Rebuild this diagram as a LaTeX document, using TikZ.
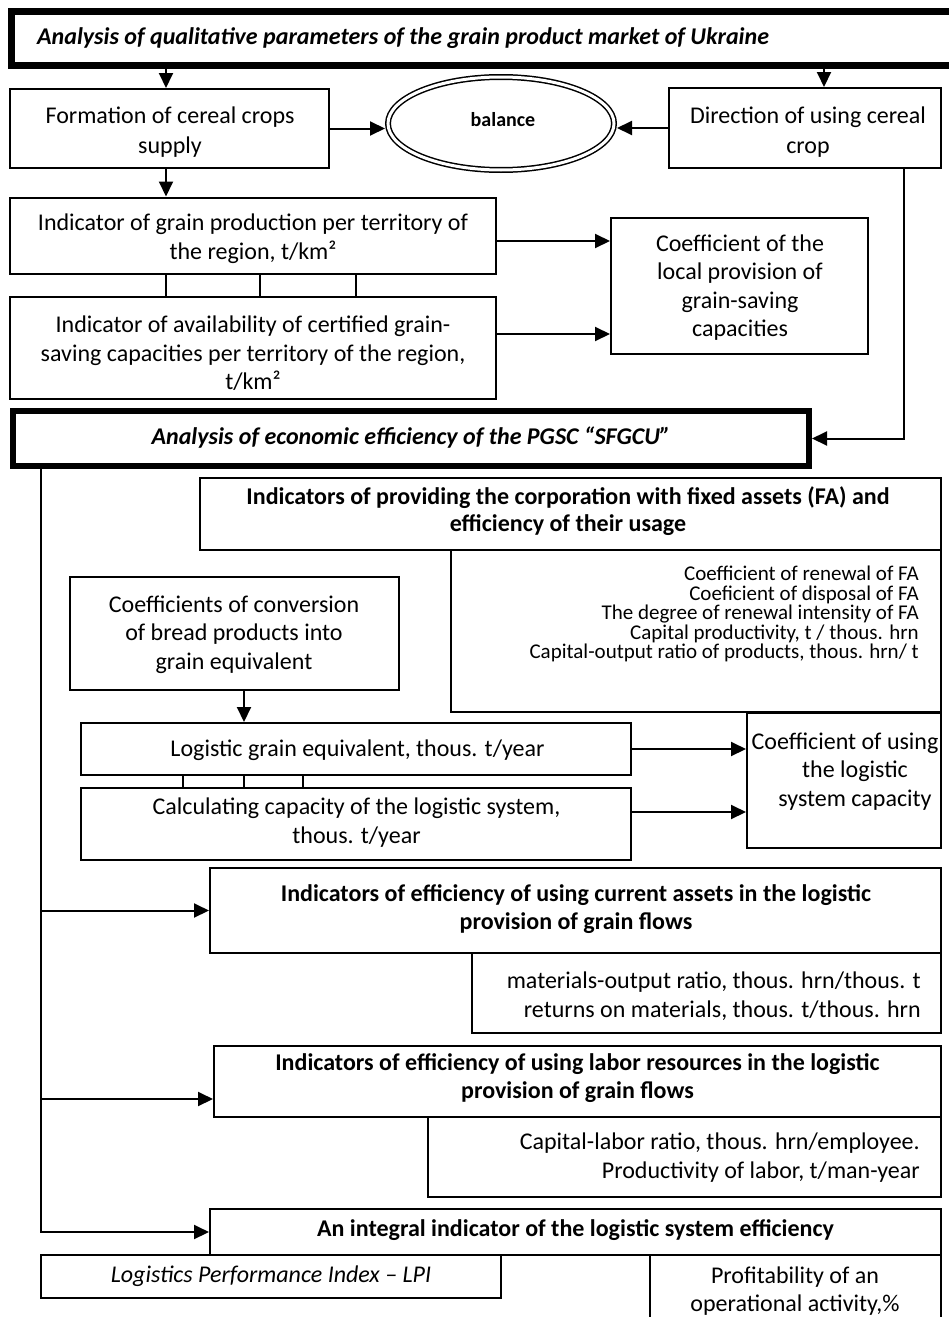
\documentclass[tikz,border=0pt]{standalone}
\usepackage{fontspec}
\setmainfont{Carlito}
\usetikzlibrary{arrows.meta,shapes.geometric}
\begin{document}
\lineskiplimit=-20pt
\begin{tikzpicture}[x=1pt,y=-1pt,
  box/.style={draw, line width=2pt, rectangle, inner sep=0pt},
  thickbox/.style={draw, line width=6pt, rectangle, inner sep=0pt},
  txt/.style={inner sep=0pt, align=center, font=\fontsize{24}{28.5}\selectfont},
  btxt/.style={txt, font=\fontsize{24}{28}\selectfont\bfseries},
  bitxt/.style={txt, font=\fontsize{24}{28}\selectfont\bfseries\itshape},
  itxt/.style={txt, font=\fontsize{24}{28}\selectfont\itshape},
  listtxt/.style={inner sep=0pt, align=right, anchor=east, font=\fontsize{24}{28.5}\selectfont},
  smalllist/.style={listtxt, font=\fontsize{21}{19.5}\selectfont},
  link/.style={line width=2pt},
  arr/.style={line width=2pt, -{Triangle[length=15pt,width=14pt]}},
]
\useasboundingbox (0,0) rectangle (949,1317);

% ---------- market analysis ----------
\node[thickbox, line width=7pt, minimum width=948.5pt, minimum height=53.5pt] (head) at (485.75,38.25) {};
\node[bitxt, anchor=west] (head-t) at (37,38.5) {Analysis of qualitative parameters of the grain product market of Ukraine};

\node[box, minimum width=319pt, minimum height=79pt] (formation) at (169.5,128.5) {};
\node[txt, font=\fontsize{24}{30}\selectfont] (formation-t) at (170,132.5) {Formation of cereal crops\\supply};

\node[draw, ellipse, line width=1.5pt, double, double distance=3pt, inner sep=0pt, outer sep=3pt,
      minimum width=226pt, minimum height=93pt] (balance) at (501,123.5) {};
\node[inner sep=0pt, font=\fontsize{20}{24}\selectfont\bfseries] (balance-t) at (503,120) {balance};

\node[box, minimum width=272pt, minimum height=80pt] (direction) at (805,128) {};
\node[txt, font=\fontsize{24}{30}\selectfont] (direction-t) at (808,132.5) {Direction of using cereal\\crop};

\node[box, minimum width=486.5pt, minimum height=76pt] (prod) at (252.75,235.5) {};
\node[txt] (prod-t) at (253,238.5) {Indicator of grain production per territory of\\the region, t/km²};

\node[box, minimum width=486.5pt, minimum height=102pt] (avail) at (252.75,348) {};
\node[txt] (avail-t) at (253,353.5) {Indicator of availability of certified grain-\\saving capacities per territory of the region,\\t/km²};

\node[box, minimum width=257pt, minimum height=136pt] (local) at (739.5,286) {};
\node[txt] (local-t) at (740,287.5) {Coefficient of the\\local provision of\\grain-saving\\capacities};

% ---------- corporation analysis ----------
\node[thickbox, minimum width=796pt, minimum height=55pt] (econ) at (411,438.5) {};
\node[bitxt] (econ-t) at (411,438) {Analysis of economic efficiency of the PGSC “SFGCU”};

\node[box, minimum width=741pt, minimum height=72pt] (fa) at (570.5,514) {};
\node[btxt, font=\fontsize{24}{27}\selectfont\bfseries] (fa-t) at (568,511.5) {Indicators of providing the corporation with fixed assets (FA) and\\efficiency of their usage};

\node[box, minimum width=490pt, minimum height=162pt] (falist) at (696,631) {};
\node[smalllist] (falist-t) at (919,614) {Coefficient of renewal of FA\\Coeficient of disposal of FA\\The degree of renewal intensity of FA\\Capital productivity, t / thous. hrn\\Capital-output ratio of products, thous. hrn/ t};

\node[box, minimum width=329pt, minimum height=113pt] (conv) at (234.5,633.5) {};
\node[txt] (conv-t) at (234,634.5) {Coefficients of conversion\\of bread products into\\grain equivalent};

\node[box, minimum width=550pt, minimum height=52pt] (lge) at (356,749) {};
\node[txt] (lge-t) at (357.5,750) {Logistic grain equivalent, thous. t/year};

\node[box, minimum width=550pt, minimum height=72pt] (calc) at (356,824) {};
\node[txt] (calc-t) at (356.5,822.5) {Calculating capacity of the logistic system,\\thous. t/year};

\node[box, minimum width=194pt, minimum height=135pt] (uselog) at (844,780.5) {};
\node[txt] (uselog-t) at (855,771.5) {\hspace*{-20pt}Coefficient of using\\the logistic\\system capacity};

\node[box, minimum width=731pt, minimum height=85pt] (cur) at (575.5,910.5) {};
\node[btxt] (cur-t) at (576,909.5) {Indicators of efficiency of using current assets in the logistic\\provision of grain flows};

\node[box, minimum width=469pt, minimum height=80pt] (curlist) at (706.5,993) {};
\node[listtxt] (curlist-t) at (921,996) {materials-output ratio, thous. hrn/thous. t\\returns on materials, thous. t/thous. hrn};

\node[box, minimum width=727pt, minimum height=71pt] (lab) at (577.5,1081.5) {};
\node[btxt] (lab-t) at (577.5,1078.5) {Indicators of efficiency of using labor resources in the logistic\\provision of grain flows};

\node[box, minimum width=513pt, minimum height=80pt] (lablist) at (684.5,1157) {};
\node[listtxt] (lablist-t) at (920,1157.5) {Capital-labor ratio, thous. hrn/employee.\\Productivity of labor, t/man-year};

\node[box, minimum width=731pt, minimum height=46pt] (integ) at (575.5,1232) {};
\node[btxt] (integ-t) at (575.5,1230) {An integral indicator of the logistic system efficiency};

\node[box, minimum width=460pt, minimum height=43pt] (lpi) at (271,1276.5) {};
\node[itxt] (lpi-t) at (271,1276.5) {Logistics Performance Index – LPI};

\node[box, minimum width=291pt, minimum height=85pt] (profit) at (795.5,1297.5) {};
\node[txt] (profit-t) at (795,1291) {Profitability of an\\operational activity,\%};

% ---------- connectors ----------
\coordinate (formtop) at ([xshift=-3.5pt]formation.north);
\coordinate (formbot) at ([xshift=-3.5pt]formation.south);
\coordinate (dirtop) at ([xshift=19pt]direction.north);
\draw[arr] (formtop |- head.south) -- (formtop);
\draw[arr] (dirtop |- head.south) -- (dirtop);

\draw[arr] (formation.east) -- (formation.east -| balance.west);
\draw[arr] (direction.west) -- (direction.west -| balance.east);

\draw[arr] (formbot) -- (formbot |- prod.north);

\foreach \dx in {-86.75,7.25,102.75}
  \draw[link] ([xshift=\dx pt]prod.south) -- ([xshift=\dx pt]avail.north);

\coordinate (p1) at ([yshift=-5.5pt]prod.east);
\coordinate (a1) at ([yshift=14pt]avail.east);
\draw[arr] (p1) -- (p1 -| local.west);
\draw[arr] (a1) -- (a1 -| local.west);

\coordinate (dsouth) at ([xshift=99pt]direction.south);
\draw[arr] (dsouth) |- (econ.east);

\coordinate (trunk) at ([xshift=-370pt]econ.south);
\coordinate (labin) at ([yshift=-17.5pt]lab.west);
\draw[arr] (trunk) |- (integ.west);
\draw[arr] (trunk |- cur.west) -- (cur.west);
\draw[arr] (trunk |- labin) -- (labin);

\coordinate (cv) at ([xshift=9.5pt]conv.south);
\draw[arr] (cv) -- (cv |- lge.north);

\foreach \dx in {-173,-112,-53}
  \draw[link] ([xshift=\dx pt]lge.south) -- ([xshift=\dx pt]calc.north);

\coordinate (c1) at ([yshift=12pt]calc.east);
\draw[arr] (lge.east) -- (lge.east -| uselog.west);
\draw[arr] (c1) -- (c1 -| uselog.west);
\end{tikzpicture}
\end{document}
